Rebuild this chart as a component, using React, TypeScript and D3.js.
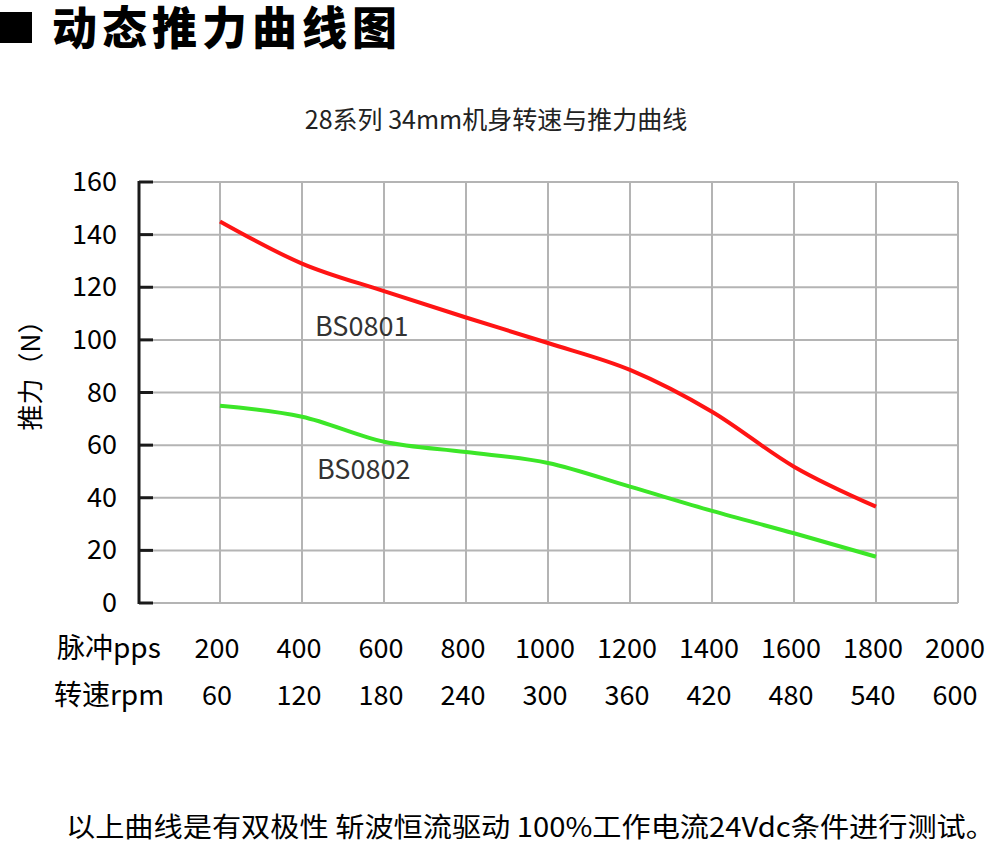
import * as React from 'react';
import * as d3 from 'd3';

const ppsTicks = [200, 400, 600, 800, 1000, 1200, 1400, 1600, 1800, 2000];
const rpmTicks = [60, 120, 180, 240, 300, 360, 420, 480, 540, 600];
const yTicks = [0, 20, 40, 60, 80, 100, 120, 140, 160];

const bs0801Pps = [200, 400, 600, 800, 1000, 1200, 1400, 1600, 1800];
const bs0801Force = [145, 129, 118.5, 108.5, 98.8, 88.6, 72.7, 51.8, 36.6];
const bs0802Pps = [200, 400, 600, 800, 1000, 1200, 1400, 1600, 1800];
const bs0802Force = [75, 70.8, 61.3, 57.4, 53.2, 44.2, 35, 26.5, 17.6];

const CJK = '"Noto Sans CJK SC", "Noto Sans", sans-serif';

const App = () => {
	const x = d3.scaleLinear().domain([0, 2000]).range([138, 958]);
	const y = d3.scaleLinear().domain([0, 160]).range([603, 182]);

	const line = d3.line<[number, number]>()
		.x(d => x(d[0]))
		.y(d => y(d[1]))
		.curve(d3.curveMonotoneX);

	const red = line(bs0801Pps.map((p, i) => [p, bs0801Force[i]] as [number, number])) || '';
	const green = line(bs0802Pps.map((p, i) => [p, bs0802Force[i]] as [number, number])) || '';

	return (
		<svg width={1006} height={844} style={{display: 'block', position: 'absolute', left: 0, top: 0, background: '#fff'}}>
			<rect x={0} y={12} width={32} height={31} fill="#000" />
			<text x={52} y={45} fontFamily={CJK} fontWeight={900} fontSize={45} textLength={345} lengthAdjust="spacing" fill="#000">动态推力曲线图</text>

			<text x={496} y={129} textAnchor="middle" fontFamily={CJK} fontSize={25} fill="#222">28系列 34mm机身转速与推力曲线</text>

			{yTicks.map(t => (
				<line key={'h' + t} x1={138} x2={958} y1={y(t)} y2={y(t)} stroke="#b4b4b4" strokeWidth={2} />
			))}
			{ppsTicks.map(t => (
				<line key={'v' + t} x1={x(t)} x2={x(t)} y1={y(160)} y2={y(0)} stroke="#b4b4b4" strokeWidth={2} />
			))}

			<line x1={139} x2={139} y1={y(160) - 1} y2={y(0) + 1} stroke="#1a1a1a" strokeWidth={3} />
			{yTicks.map(t => (
				<line key={'t' + t} x1={139} x2={153} y1={y(t)} y2={y(t)} stroke="#1a1a1a" strokeWidth={3} />
			))}
			{yTicks.map(t => (
				<text key={'l' + t} x={117} y={y(t) + 9} textAnchor="end" fontFamily={CJK} fontSize={27} fill="#000">{t}</text>
			))}

			<text transform="translate(40,369) rotate(-90)" textAnchor="middle" fontFamily={CJK} fontSize={26} fill="#000">推力（N）</text>

			<path d={red} fill="none" stroke="#ff1414" strokeWidth={4} />
			<path d={green} fill="none" stroke="#3ce628" strokeWidth={4} />

			<text x={315} y={336} fontFamily={CJK} fontSize={27} fill="#333">BS0801</text>
			<text x={317} y={479} fontFamily={CJK} fontSize={27} fill="#333">BS0802</text>

			<text x={57} y={658} fontFamily={CJK} fontSize={28} fill="#000">脉冲pps</text>
			<text x={54} y={705} fontFamily={CJK} fontSize={28} fill="#000">转速rpm</text>
			{ppsTicks.map(t => (
				<text key={'p' + t} x={x(t) - 3} y={658} textAnchor="middle" fontFamily={CJK} fontSize={27} fill="#000">{t}</text>
			))}
			{rpmTicks.map((t, i) => (
				<text key={'r' + t} x={x(ppsTicks[i]) - 3} y={705} textAnchor="middle" fontFamily={CJK} fontSize={27} fill="#000">{t}</text>
			))}

			<text x={66} y={837} fontFamily={CJK} fontSize={27} textLength={929} lengthAdjust="spacingAndGlyphs" fill="#000">以上曲线是有双极性 斩波恒流驱动 100%工作电流24Vdc条件进行测试。</text>
		</svg>
	);
};

export default App;
